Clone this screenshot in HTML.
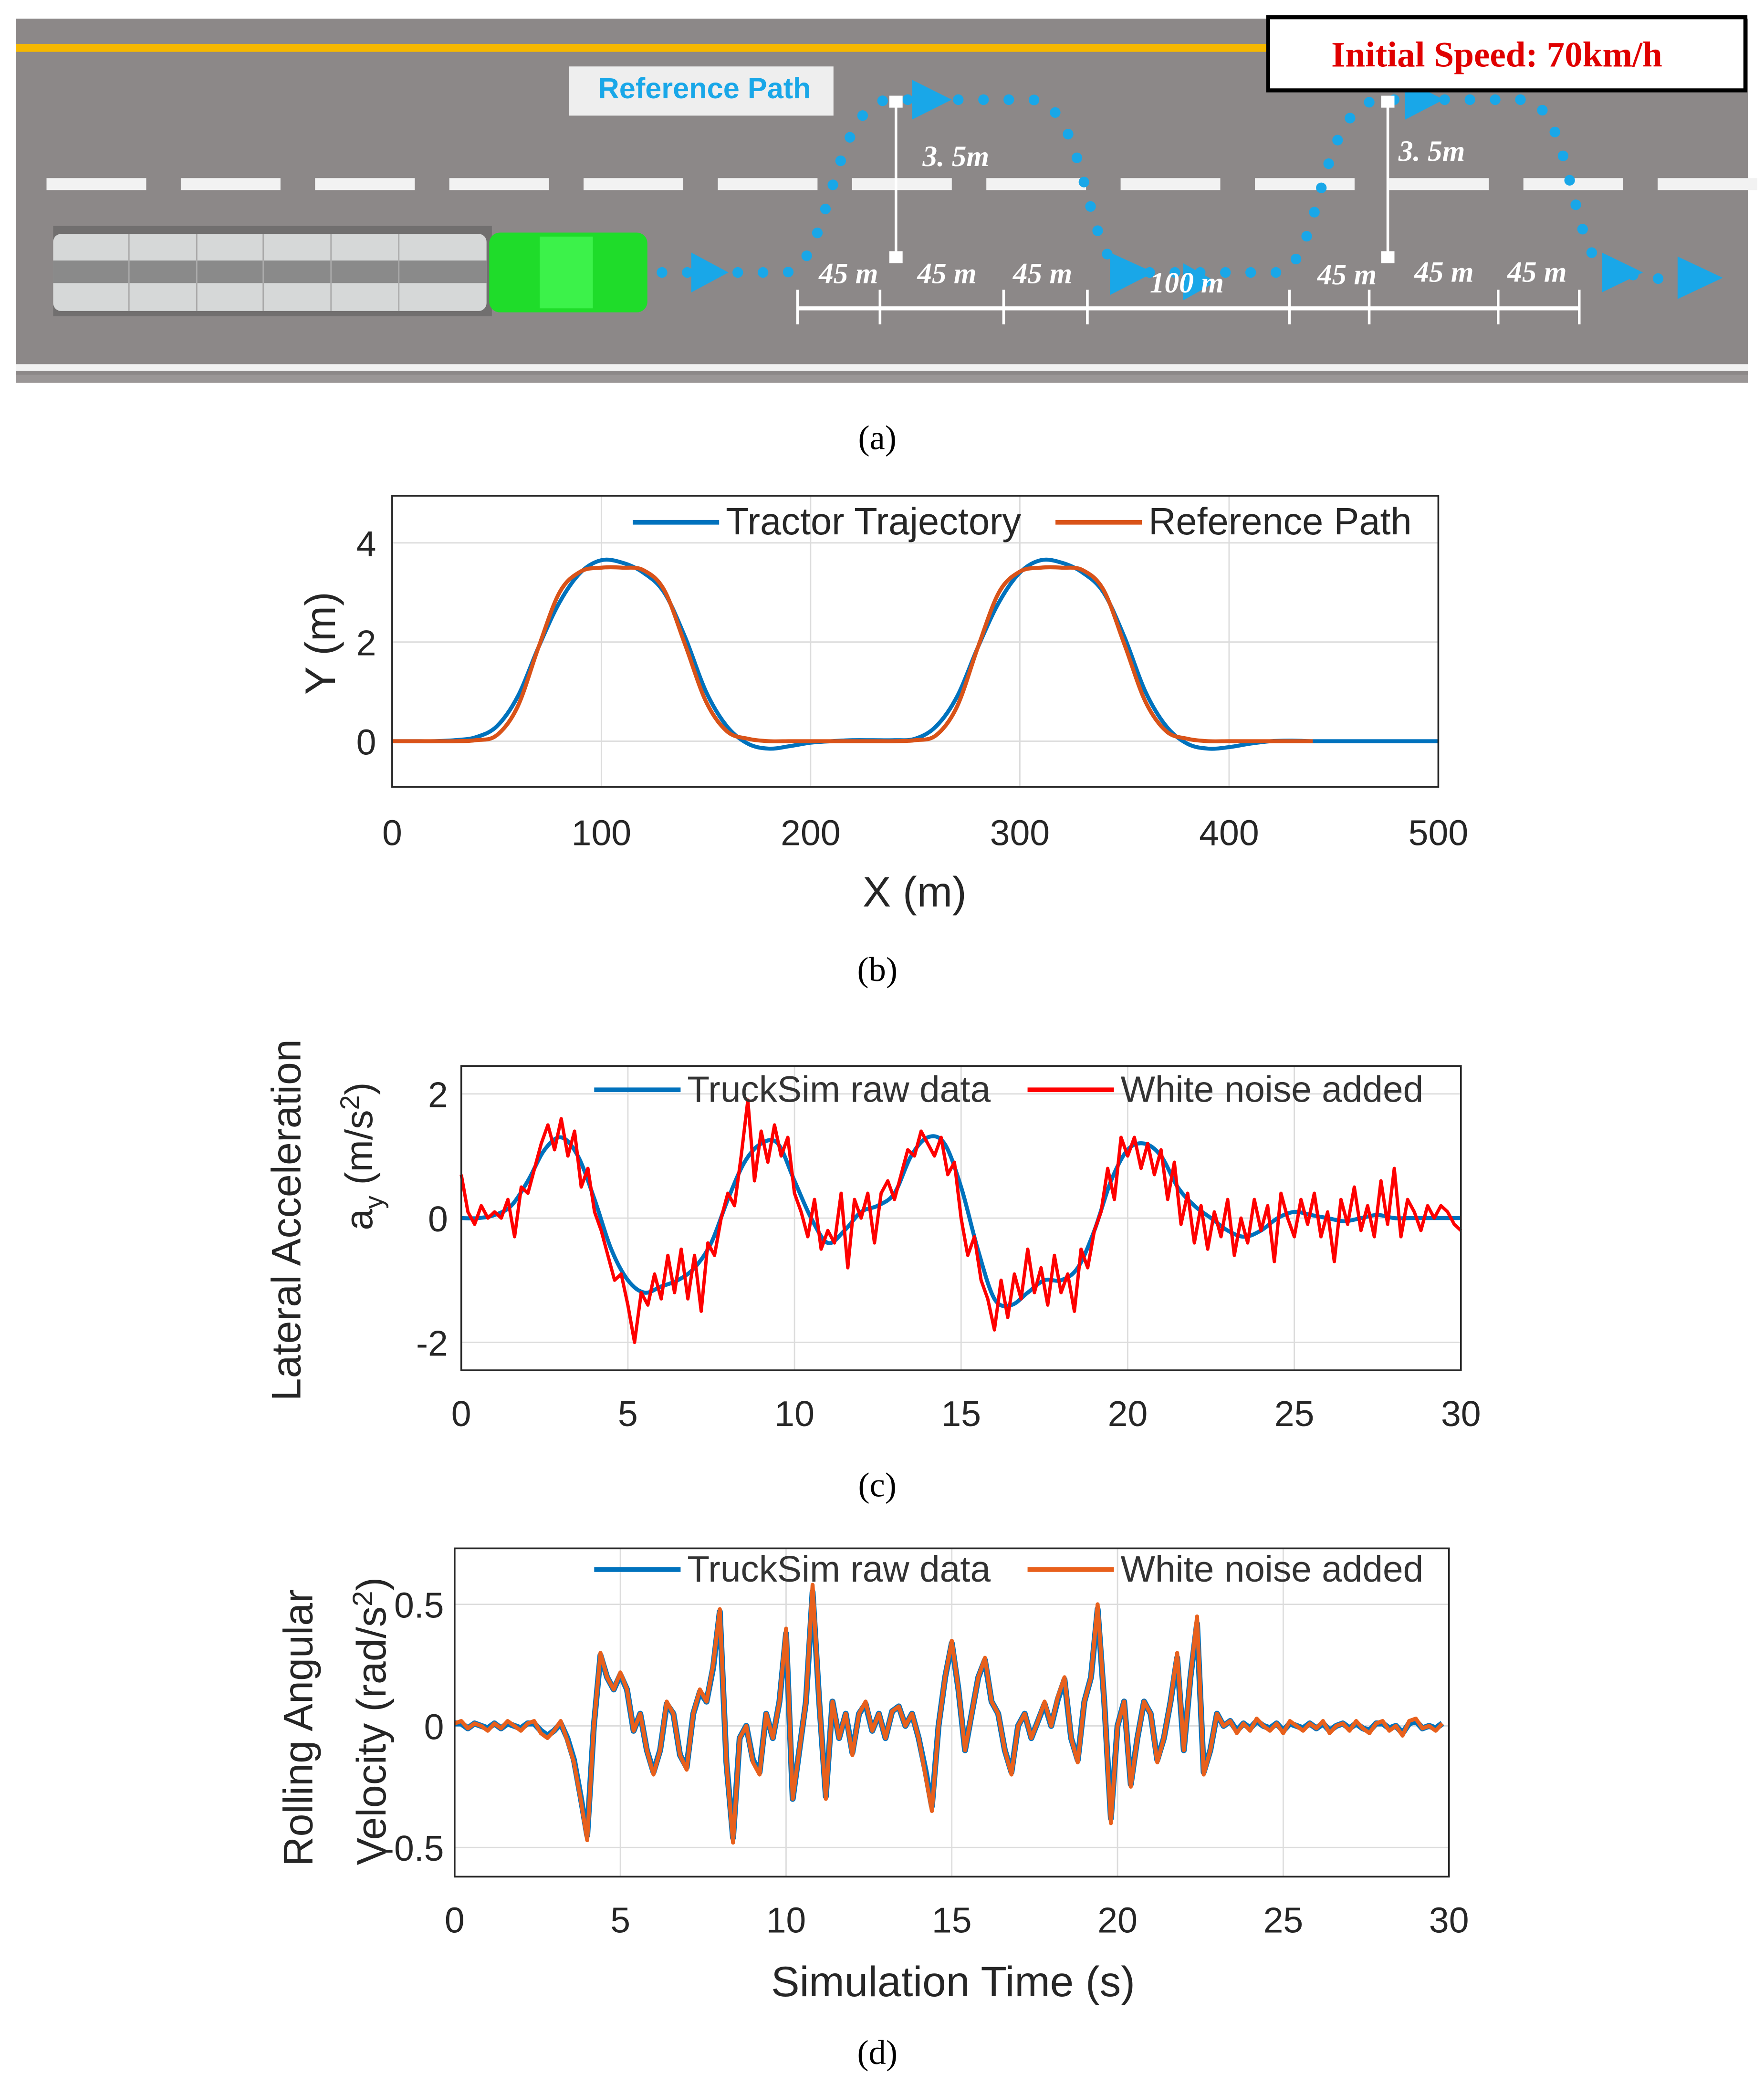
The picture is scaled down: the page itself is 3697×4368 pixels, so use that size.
<!DOCTYPE html>
<html><head><meta charset="utf-8"><style>
html,body{margin:0;padding:0;background:#fff;}
svg{display:block;}
.tk{font-family:"Liberation Sans",sans-serif;font-size:27px;fill:#262626;}
.lg{font-family:"Liberation Sans",sans-serif;font-size:27.5px;fill:#333;}
.cap{font-family:"Liberation Serif",serif;font-size:26px;fill:#000;}
.dim{font-family:"Liberation Serif",serif;font-size:22px;font-weight:bold;font-style:italic;fill:#fff;}
</style></head><body>
<svg id="root" width="3697" height="4368" viewBox="0 0 1327 1568" preserveAspectRatio="none" xmlns="http://www.w3.org/2000/svg">
<g>
<rect x="12" y="14" width="1303" height="274" fill="#8c8888"/>
<rect x="12" y="33" width="943" height="6" fill="#f6b800"/>
<g id="dashes"></g>
<rect x="12" y="274" width="1303" height="5" fill="#f2f2f2"/>
<rect x="12" y="282" width="1303" height="6" fill="#9a9696"/>
<g>
<rect x="40" y="170" width="330" height="68" fill="#555" opacity="0.5"/>
<rect x="40" y="176" width="326" height="58" rx="6" fill="#d6d8d8"/>
<rect x="40" y="196" width="326" height="17" fill="#8a8a8a"/>
<line x1="97" y1="176" x2="97" y2="234" stroke="#aaa"/><line x1="148" y1="176" x2="148" y2="234" stroke="#aaa"/><line x1="198" y1="176" x2="198" y2="234" stroke="#aaa"/><line x1="249" y1="176" x2="249" y2="234" stroke="#aaa"/><line x1="300" y1="176" x2="300" y2="234" stroke="#aaa"/>
<rect x="368" y="175" width="119" height="60" rx="8" fill="#1fdc2a"/>
<rect x="406" y="178" width="40" height="54" fill="#3cf24a"/>
</g>
<path id="refpath" d="M498 205 L590 205 C625 205 625 75 670 75 L775 75 C820 75 815 205 850 205 L960 205 C995 205 990 75 1040 75 L1145 75 C1185 75 1180 205 1215 205 L1250 210" fill="none" stroke="#19a7e8" stroke-width="8" stroke-linecap="round" stroke-dasharray="0 19"/>
<g fill="#19a7e8">
<polygon points="520,190 548,205 520,220"/><polygon points="686,60 716,75 686,90"/><polygon points="835,190 868,205 835,222"/><polygon points="890,198 915,212 890,226"/><polygon points="1057,60 1086,75 1057,90"/><polygon points="1205,190 1236,205 1205,220"/><polygon points="1262,193 1296,209 1262,225"/>
</g>
<g stroke="#fff" stroke-width="2" fill="#fff">
<line x1="674" y1="80" x2="674" y2="192"/><rect x="670" y="73" width="8" height="7"/><rect x="670" y="190" width="8" height="7"/>
<line x1="1044" y1="80" x2="1044" y2="192"/><rect x="1040" y="73" width="8" height="7"/><rect x="1040" y="190" width="8" height="7"/>
<line x1="600" y1="218" x2="600" y2="244"/><line x1="662" y1="218" x2="662" y2="244"/><line x1="755" y1="218" x2="755" y2="244"/><line x1="818" y1="218" x2="818" y2="244"/><line x1="970" y1="218" x2="970" y2="244"/><line x1="1030" y1="218" x2="1030" y2="244"/><line x1="1127" y1="218" x2="1127" y2="244"/><line x1="1188" y1="218" x2="1188" y2="244"/>
<line x1="600" y1="232" x2="1188" y2="232" stroke-width="3"/>
</g>
<g>
<text class="dim" x="694" y="125">3. 5m</text><text class="dim" x="1052" y="121">3. 5m</text>
<text class="dim" x="616" y="213">45 m</text><text class="dim" x="690" y="213">45 m</text><text class="dim" x="762" y="213">45 m</text><text class="dim" x="865" y="220">100 m</text><text class="dim" x="991" y="214">45 m</text><text class="dim" x="1064" y="212">45 m</text><text class="dim" x="1134" y="212">45 m</text>
</g>
<rect x="428" y="50" width="199" height="37" fill="#eeeeee"/>
<text x="530" y="74" text-anchor="middle" style="font-family:'Liberation Sans',sans-serif;font-size:22px;fill:#19a7e8;font-weight:bold">Reference Path</text>
<rect x="954" y="13" width="359" height="55" fill="#fff" stroke="#000" stroke-width="3"/>
<text x="1126" y="50" text-anchor="middle" style="font-family:'Liberation Serif',serif;font-size:27px;font-weight:bold;fill:#e00000">Initial Speed:  70km/h</text>
</g>
<text class="cap" x="660" y="338" text-anchor="middle">(a)</text>
<g id="pb"></g>
<text class="cap" x="660" y="738" text-anchor="middle">(b)</text>
<g id="pc"></g>
<text class="cap" x="660" y="1126" text-anchor="middle">(c)</text>
<g id="pd"></g>
<text class="cap" x="660" y="1553" text-anchor="middle">(d)</text>
</svg>
<script>
const NS="http://www.w3.org/2000/svg";
const trajX=[0,10,20,30,40,50,60,70,80,90,100,110,120,130,140,150,160,170,180,190,200,210,220,230,240,250,260,270,280,290,300,310,320,330,340,350,360,370,380,390,400,410,420,430,440,450,460,470,480,490,500];
const tractorY=[0,0,0,0.02,0.08,0.3,0.9,1.9,2.8,3.4,3.65,3.6,3.4,3.0,2.1,1.0,0.3,-0.05,-0.15,-0.1,-0.03,0.0,0.02,0.02,0.02,0.05,0.3,0.9,1.9,2.8,3.4,3.65,3.6,3.4,3.0,2.1,1.0,0.3,-0.05,-0.15,-0.12,-0.05,0.0,0.01,0.0,0,0,0,0,0,0];
const refX=[0,10,20,30,40,50,60,70,80,90,100,110,120,130,140,150,160,170,180,190,200,210,220,230,240,250,260,270,280,290,300,310,320,330,340,350,360,370,380,390,400,410,420,430,440];
const refY=[0,0,0,0,0.02,0.12,0.7,1.9,3.0,3.42,3.5,3.5,3.45,3.05,1.95,0.8,0.2,0.05,0,0,0,0,0,0,0,0.02,0.12,0.7,1.9,3.0,3.42,3.5,3.5,3.45,3.05,1.95,0.8,0.2,0.05,0,0,0,0,0,0];
const bXTicks=[0,100,200,300,400,500];
const bYTicks=[0,2,4];
const ayRaw=[0,0,0.05,0.2,0.6,1.1,1.3,1.0,0.3,-0.5,-1.0,-1.2,-1.1,-1.0,-0.8,-0.4,0.3,0.9,1.2,1.2,0.6,0.0,-0.4,-0.2,0.1,0.2,0.4,1.0,1.3,1.2,0.5,-0.5,-1.3,-1.4,-1.2,-1.0,-1.0,-0.8,-0.2,0.6,1.1,1.2,1.0,0.5,0.2,0.0,-0.2,-0.3,-0.2,0,0.1,0.05,0,-0.05,0,0.05,0,0,0,0,0];
const ayNoisy=[0.7,0.1,-0.1,0.2,0.0,0.1,0.0,0.3,-0.3,0.5,0.4,0.8,1.2,1.5,1.1,1.6,1.0,1.4,0.5,0.8,0.1,-0.2,-0.6,-1.0,-0.9,-1.4,-2.0,-1.2,-1.4,-0.9,-1.3,-0.6,-1.2,-0.5,-1.3,-0.6,-1.5,-0.4,-0.6,0.0,0.4,0.2,1.0,1.9,0.6,1.4,0.9,1.5,1.0,1.3,0.4,0.1,-0.3,0.3,-0.5,-0.2,-0.4,0.4,-0.8,0.3,0.0,0.4,-0.4,0.4,0.6,0.3,0.7,1.1,1.0,1.4,1.2,1.0,1.3,0.7,0.9,0.0,-0.6,-0.3,-1.0,-1.3,-1.8,-1.0,-1.6,-0.9,-1.3,-0.5,-1.2,-0.8,-1.4,-0.6,-1.2,-0.9,-1.5,-0.5,-0.8,-0.2,0.1,0.8,0.3,1.3,1.0,1.3,0.8,1.2,0.7,1.1,0.3,0.9,-0.1,0.4,-0.4,0.2,-0.5,0.1,-0.3,0.3,-0.6,0.0,-0.4,0.3,-0.2,0.2,-0.7,0.4,0.0,-0.3,0.3,-0.1,0.4,-0.3,0.1,-0.7,0.3,-0.1,0.5,-0.2,0.2,-0.3,0.6,-0.1,0.8,-0.3,0.3,0.1,-0.2,0.2,0.0,0.2,0.1,-0.1,-0.2];
const timeTicks=[0,5,10,15,20,25,30];
const cYTicks=[-2,0,2];
const rollNoisy=[0.01,0.02,-0.01,0.01,0.0,-0.02,0.01,-0.01,0.02,0.0,-0.02,0.01,0.02,-0.03,-0.05,-0.02,0.02,-0.06,-0.15,-0.3,-0.47,0.0,0.3,0.2,0.15,0.22,0.15,-0.02,0.05,-0.1,-0.2,-0.1,0.1,0.05,-0.12,-0.18,0.05,0.15,0.1,0.25,0.48,-0.15,-0.48,-0.05,0.0,-0.15,-0.2,0.05,-0.05,0.1,0.4,-0.3,-0.1,0.1,0.58,0.1,-0.3,0.1,-0.05,0.05,-0.12,0.05,0.1,-0.02,0.05,-0.05,0.06,0.08,0.0,0.05,-0.05,-0.2,-0.35,0.0,0.2,0.35,0.15,-0.1,0.05,0.2,0.28,0.1,0.05,-0.1,-0.2,0.0,0.05,-0.05,0.02,0.1,0.0,0.12,0.2,-0.05,-0.15,0.1,0.2,0.5,0.1,-0.4,0.0,0.1,-0.25,-0.05,0.1,0.05,-0.15,-0.05,0.1,0.3,-0.1,0.2,0.45,-0.2,-0.1,0.05,0.0,0.02,-0.03,0.01,-0.02,0.03,0.0,-0.02,0.01,-0.03,0.02,0.0,-0.02,0.01,-0.01,0.02,-0.03,0.0,0.01,-0.02,0.02,-0.01,-0.03,0.01,0.02,-0.02,0.0,-0.04,0.02,0.03,-0.01,0.0,-0.02,0.01];
const rollRaw=[0.01,0.01,-0.01,0.01,0.0,-0.01,0.01,-0.01,0.01,0.0,-0.01,0.01,0.01,-0.02,-0.04,-0.02,0.01,-0.05,-0.14,-0.29,-0.45,0.0,0.29,0.2,0.15,0.21,0.15,-0.02,0.05,-0.1,-0.19,-0.1,0.09,0.05,-0.12,-0.17,0.05,0.14,0.1,0.24,0.47,-0.15,-0.46,-0.05,0.0,-0.14,-0.19,0.05,-0.05,0.1,0.38,-0.3,-0.1,0.1,0.55,0.1,-0.29,0.1,-0.05,0.05,-0.11,0.05,0.09,-0.02,0.05,-0.05,0.06,0.08,0.0,0.05,-0.05,-0.18,-0.33,0.0,0.2,0.34,0.15,-0.1,0.05,0.2,0.27,0.1,0.05,-0.1,-0.19,0.0,0.05,-0.05,0.02,0.09,0.0,0.11,0.19,-0.05,-0.14,0.1,0.2,0.48,0.1,-0.38,0.0,0.1,-0.24,-0.05,0.1,0.05,-0.14,-0.05,0.1,0.28,-0.1,0.2,0.42,-0.19,-0.1,0.05,0.0,0.02,-0.02,0.01,-0.01,0.02,0.0,-0.01,0.01,-0.02,0.01,0.0,-0.01,0.01,-0.01,0.01,-0.02,0.0,0.01,-0.01,0.01,-0.01,-0.02,0.01,0.01,-0.01,0.0,-0.03,0.01,0.02,-0.01,0.0,-0.01,0.01];
const dYTicks=[-0.5,0,0.5];
const dYTickLabels=["-0.5","0","0.5"];

function el(tag,attrs,parent){const e=document.createElementNS(NS,tag);for(const k in attrs)e.setAttribute(k,attrs[k]);parent.appendChild(e);return e;}
function lin(d0,d1,r0,r1){return v=>r0+(v-d0)*(r1-r0)/(d1-d0);}

const dg=document.getElementById('dashes');
for(let x=35;x<1300;x+=101){const r=el('rect',{x:x,y:134,width:75,height:9,fill:'#f2f2f2'},dg);}

function axes(g,o){
  const sx=lin(o.x0,o.x1,o.L,o.R), sy=lin(o.y0,o.y1,o.B,o.T);
  el('rect',{x:o.L,y:o.T,width:o.R-o.L,height:o.B-o.T,fill:'#fff'},g);
  o.xt.forEach(v=>{const l=el('line',{x1:sx(v),x2:sx(v),y1:o.T,y2:o.B,stroke:'#dcdcdc','stroke-width':1},g);
    const t=el('text',{x:sx(v),y:o.B+o.xtOff,'text-anchor':'middle',class:'tk'},g);t.textContent=v;});
  o.yt.forEach((v,i)=>{const l=el('line',{x1:o.L,x2:o.R,y1:sy(v),y2:sy(v),stroke:'#dcdcdc','stroke-width':1},g);
    const t=el('text',{x:o.L-o.ytOff,y:sy(v)+10,'text-anchor':'end',class:'tk'},g);t.textContent=o.ytl?o.ytl[i]:v;});
  return {sx,sy};
}
function line(g,xs,ys,sx,sy,color,w,name,smooth){
  const P=ys.map((v,i)=>[sx(xs[i]),sy(v)]);
  let d='M'+P[0][0].toFixed(2)+' '+P[0][1].toFixed(2);
  for(let i=1;i<P.length;i++){
    if(smooth){const p0=P[Math.max(0,i-2)],p1=P[i-1],p2=P[i],p3=P[Math.min(P.length-1,i+1)];
      const c1=[p1[0]+(p2[0]-p0[0])/6,p1[1]+(p2[1]-p0[1])/6],c2=[p2[0]-(p3[0]-p1[0])/6,p2[1]-(p3[1]-p1[1])/6];
      d+=' C'+c1[0].toFixed(2)+' '+c1[1].toFixed(2)+' '+c2[0].toFixed(2)+' '+c2[1].toFixed(2)+' '+p2[0].toFixed(2)+' '+p2[1].toFixed(2);}
    else d+=' L'+P[i][0].toFixed(2)+' '+P[i][1].toFixed(2);
  }
  const p=el('path',{d:d,fill:'none',stroke:color,'stroke-width':w,'stroke-linejoin':'round'},g);
  
}
function frame(g,o){el('rect',{x:o.L,y:o.T,width:o.R-o.L,height:o.B-o.T,fill:'none',stroke:'#262626','stroke-width':1.3},g);}
function legend(g,items,y){items.forEach(it=>{const l=el('line',{x1:it.x,x2:it.x+65,y1:y,y2:y,stroke:it.c,'stroke-width':3.5},g);
  const t=el('text',{x:it.x+70,y:y+9,class:'lg'},g);t.textContent=it.t;});}
const ts=(n,dt)=>Array.from({length:n},(_,i)=>i*dt);

const gb=document.getElementById('pb');
const ob={L:295,R:1082,T:373,B:592,x0:0,x1:500,y0:-0.92,y1:4.95,xt:bXTicks,yt:bYTicks,xtOff:44,ytOff:12};
let s=axes(gb,ob);
line(gb,trajX,tractorY,s.sx,s.sy,'#0072BD',3,'tractor-trajectory-line',true);
line(gb,refX,refY,s.sx,s.sy,'#D95319',3,'reference-path-line',true);
frame(gb,ob);
legend(gb,[{x:476,c:'#0072BD',t:'Tractor Trajectory'},{x:794,c:'#D95319',t:'Reference Path'}],393);
gb.querySelectorAll('text.lg').forEach(t=>{t.style.fontSize='28.5px';t.style.fill='#262626';});
let t=el('text',{x:0,y:0,transform:'translate(252,484) rotate(-90)','text-anchor':'middle',class:'tk'},gb);t.textContent='Y (m)';t.style.fontSize='32px';
t=el('text',{x:688,y:682,'text-anchor':'middle',class:'tk'},gb);t.textContent='X (m)';t.style.fontSize='32px';

const gc=document.getElementById('pc');
const oc={L:347,R:1099,T:802,B:1031,x0:0,x1:30,y0:-2.45,y1:2.45,xt:timeTicks,yt:cYTicks,xtOff:42,ytOff:10};
s=axes(gc,oc);
line(gc,ts(ayRaw.length,0.5),ayRaw,s.sx,s.sy,'#0072BD',3,'trucksim-raw-line',true);
line(gc,ts(ayNoisy.length,0.2),ayNoisy,s.sx,s.sy,'#FF0000',2.5,'noise-added-line');
frame(gc,oc);
legend(gc,[{x:447,c:'#0072BD',t:'TruckSim raw data'},{x:773,c:'#FF0000',t:'White noise added'}],820);
t=el('text',{x:0,y:0,transform:'translate(226,918) rotate(-90)','text-anchor':'middle',class:'tk'},gc);t.textContent='Lateral Acceleration';t.style.fontSize='31px';
t=el('text',{x:0,y:0,transform:'translate(280,870) rotate(-90)','text-anchor':'middle',class:'tk'},gc);t.style.fontSize='29px';t.innerHTML='a<tspan dy="8" font-size="20">y</tspan><tspan dy="-8">  (m/s</tspan><tspan dy="-10" font-size="20">2</tspan><tspan dy="10">)</tspan>';

const gd=document.getElementById('pd');
const od={L:342,R:1090,T:1165,B:1412,x0:0,x1:30,y0:-0.62,y1:0.73,xt:timeTicks,yt:dYTicks,ytl:dYTickLabels,xtOff:42,ytOff:8};
s=axes(gd,od);
line(gd,ts(rollRaw.length,0.2),rollRaw,s.sx,s.sy,'#0072BD',4.5,'trucksim-raw-line');
line(gd,ts(rollNoisy.length,0.2),rollNoisy,s.sx,s.sy,'#E8601C',3,'noise-added-line');
frame(gd,od);
legend(gd,[{x:447,c:'#0072BD',t:'TruckSim raw data'},{x:773,c:'#E8601C',t:'White noise added'}],1181);
t=el('text',{x:0,y:0,transform:'translate(235,1300) rotate(-90)','text-anchor':'middle',class:'tk'},gd);t.textContent='Rolling Angular';t.style.fontSize='31px';
t=el('text',{x:0,y:0,transform:'translate(290,1295) rotate(-90)','text-anchor':'middle',class:'tk'},gd);t.style.fontSize='31px';t.innerHTML='Velocity (rad/s<tspan dy="-10" font-size="21">2</tspan><tspan dy="10">)</tspan>';
t=el('text',{x:717,y:1502,'text-anchor':'middle',class:'tk'},gd);t.textContent='Simulation Time (s)';t.style.fontSize='32px';
</script>
</body></html>
